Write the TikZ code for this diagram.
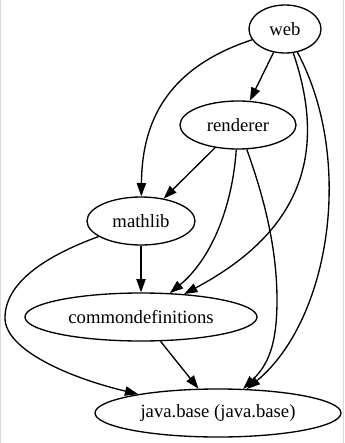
\documentclass[tikz,border=0pt]{standalone}
\usepackage{fontspec}
\setmainfont{Liberation Serif}
\usetikzlibrary{arrows.meta, shapes.geometric}

\begin{document}
\begin{tikzpicture}[x=0.75pt, y=-0.75pt,
    mod/.style={ellipse, draw, line width=1pt, inner sep=0pt, minimum height=36pt,
        font=\rmfamily\fontsize{14}{16}\selectfont},
    dep/.style={line width=1pt, -{Triangle[length=10pt, width=7pt]}}]
    \useasboundingbox (0,0) rectangle (344,443);
    \draw[black!15, line width=0.75pt] (0.5,0) -- (0.5,443);
    \draw[black!15, line width=0.75pt] (343.5,0) -- (343.5,443);

    % Modules
    \node[mod, minimum width=54pt] (web) at (285,29) {web};
    \node[mod, minimum width=87pt] (renderer) at (238,125) {renderer};
    \node[mod, minimum width=81pt] (mathlib) at (141,221) {mathlib};
    \node[mod, minimum width=174pt] (common) at (141,317) {commondefinitions};
    \node[mod, minimum width=184.5pt] (javabase) at (218,413) {java.base (java.base)};

    % Requires
    \draw[dep] (web) -- (renderer);
    \draw[dep] (web) .. controls (160,70) and (142,130) .. (mathlib);
    \draw[dep] (web) .. controls (330,160) and (295,235) .. (common);
    \draw[dep] (web) .. controls (355,160) and (330,320) .. (javabase);
    \draw[dep] (renderer) -- (mathlib);
    \draw[dep] (renderer) .. controls (232,210) and (210,260) .. (common);
    \draw[dep] (renderer) .. controls (265,200) and (277,250) .. (277,300)
        .. controls (277,345) and (268,365) .. (javabase);
    \draw[dep] (mathlib) -- (common);
    \draw[dep] (mathlib) .. controls (40,258) and (5,285) .. (5,318)
        .. controls (5,350) and (70,378) .. (javabase);
    \draw[dep] (common) -- (javabase);
\end{tikzpicture}
\end{document}
